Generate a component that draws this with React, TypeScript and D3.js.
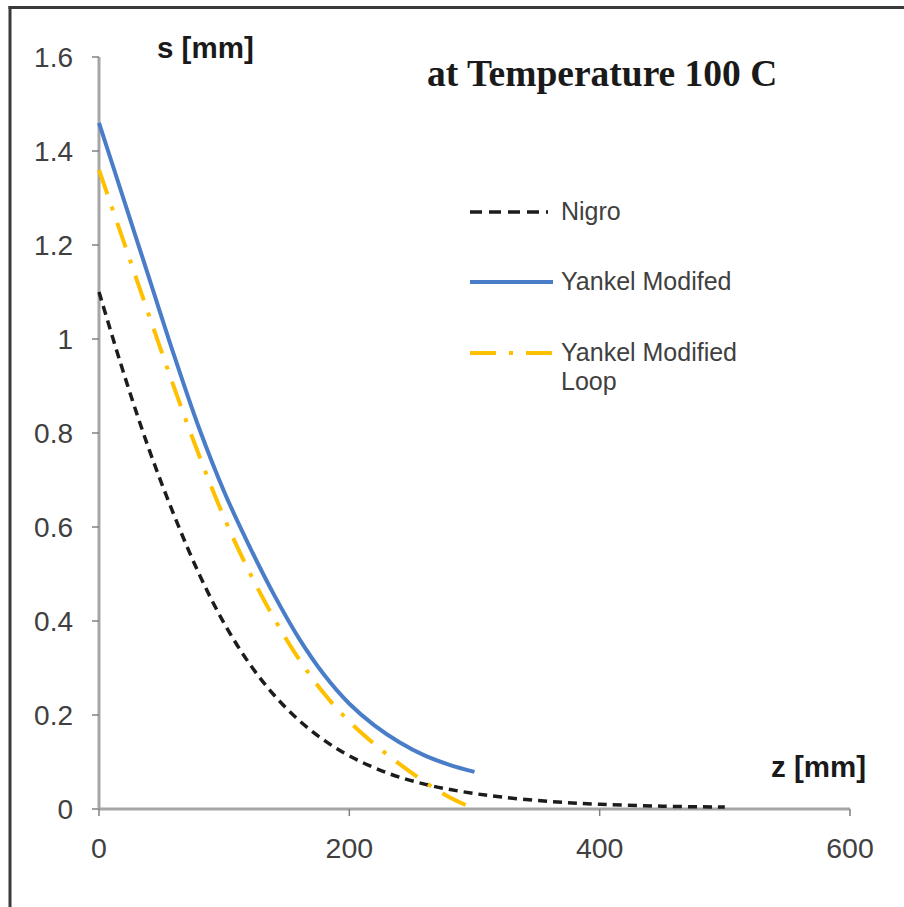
import * as d3 from "d3";

// z [mm] / s [mm] readings
const nigroZ = [0, 20, 40, 60, 80, 100, 120, 140, 160, 180, 200, 230, 260, 290, 320, 360, 400, 450, 500];
const nigroS = [1.1, 0.925, 0.765, 0.625, 0.5, 0.395, 0.31, 0.242, 0.188, 0.146, 0.113, 0.077, 0.053, 0.037, 0.026, 0.016, 0.01, 0.006, 0.004];

const yankelZ = [0, 20, 40, 60, 80, 100, 120, 140, 160, 180, 200, 220, 240, 260, 280, 300];
const yankelS = [1.46, 1.295, 1.13, 0.965, 0.81, 0.675, 0.56, 0.455, 0.362, 0.285, 0.224, 0.178, 0.142, 0.114, 0.094, 0.079];

const loopZ = [0, 20, 40, 60, 80, 100, 120, 140, 160, 180, 200, 220, 240, 260, 280, 300];
const loopS = [1.36, 1.205, 1.05, 0.897, 0.752, 0.62, 0.505, 0.405, 0.318, 0.245, 0.186, 0.138, 0.096, 0.058, 0.025, 0];

const xTicks = [0, 200, 400, 600];
const yTicks = [0, 0.2, 0.4, 0.6, 0.8, 1, 1.2, 1.4, 1.6];

const legendLabels = ["Nigro", "Yankel Modifed", "Yankel Modified"];

const W = 904;
const H = 907;
const sans = "'Liberation Sans', Arial, sans-serif";

export default function App() {
  const x = d3.scaleLinear().domain([0, 600]).range([99, 850]);
  const y = d3.scaleLinear().domain([0, 1.6]).range([809, 57]);

  const line = d3
    .line<[number, number]>()
    .x((d) => x(d[0]))
    .y((d) => y(d[1]))
    .curve(d3.curveCatmullRom);

  const zip = (zs: number[], ss: number[]) => zs.map((z, i) => [z, ss[i]] as [number, number]);

  const series = [
    { pts: zip(nigroZ, nigroS), color: "#1c1c1c", width: 3.5, dash: "9,6" },
    { pts: zip(yankelZ, yankelS), color: "#4a7dc8", width: 4, dash: "" },
    { pts: zip(loopZ, loopS), color: "#ffc000", width: 4, dash: "26,13,4,13" },
  ];

  const legendY = [212, 282, 353];

  return (
    <svg
      width={W}
      height={H}
      style={{ position: "absolute", left: 0, top: 0, background: "#fff" }}
    >
      <rect x={0} y={0} width={W} height={H} fill="#fff" />
      {/* frame */}
      <line x1={8.5} x2={W} y1={7.5} y2={7.5} stroke="#3a3a3a" strokeWidth={3} />
      <line x1={10} x2={10} y1={6} y2={H} stroke="#3a3a3a" strokeWidth={3} />

      {/* y axis */}
      <line x1={x(0)} x2={x(0)} y1={y(1.6)} y2={y(0)} stroke="#a6a6a6" strokeWidth={3} />
      {yTicks.map((t) => (
        <g key={"y" + t}>
          <line x1={x(0) - 7} x2={x(0)} y1={y(t)} y2={y(t)} stroke="#808080" strokeWidth={1.5} />
          <text
            x={73}
            y={y(t)}
            dy="0.36em"
            textAnchor="end"
            fontFamily={sans}
            fontSize={28}
            fill="#404040"
          >
            {d3.format("")(t)}
          </text>
        </g>
      ))}

      {/* x axis */}
      <line x1={x(0)} x2={x(600)} y1={y(0)} y2={y(0)} stroke="#a6a6a6" strokeWidth={3} />
      {xTicks.map((t) => (
        <g key={"x" + t}>
          <line x1={x(t)} x2={x(t)} y1={y(0)} y2={y(0) + 7} stroke="#808080" strokeWidth={1.5} />
          <text
            x={x(t)}
            y={858}
            textAnchor="middle"
            fontFamily={sans}
            fontSize={28.5}
            fill="#404040"
          >
            {t}
          </text>
        </g>
      ))}

      {/* series */}
      {series.map((s, i) => (
        <path
          key={"s" + i}
          d={line(s.pts) || ""}
          fill="none"
          stroke={s.color}
          strokeWidth={s.width}
          strokeDasharray={s.dash || undefined}
        />
      ))}

      {/* axis titles */}
      <text x={157} y={58} fontFamily={sans} fontWeight="bold" fontSize={29.5} fill="#1a1a1a">
        s [mm]
      </text>
      <text x={771} y={777} fontFamily={sans} fontWeight="bold" fontSize={29.5} fill="#1a1a1a">
        z [mm]
      </text>

      {/* chart title */}
      <text
        x={427}
        y={86}
        fontFamily="'Liberation Serif', 'Times New Roman', serif"
        fontWeight="bold"
        fontSize={37.5}
        fill="#1a1a1a"
      >
        at Temperature 100 C
      </text>

      {/* legend */}
      {series.map((s, i) => (
        <line
          key={"l" + i}
          x1={470}
          x2={i === 0 ? 548 : 553}
          y1={legendY[i]}
          y2={legendY[i]}
          stroke={s.color}
          strokeWidth={s.width}
          strokeDasharray={i === 0 ? "12,7" : s.dash || undefined}
        />
      ))}
      {legendLabels.map((l, i) => (
        <text
          key={"t" + i}
          x={561}
          y={legendY[i] + 8}
          fontFamily={sans}
          fontSize={25}
          fill="#404040"
        >
          {l}
        </text>
      ))}
      <text x={561} y={legendY[2] + 37} fontFamily={sans} fontSize={25} fill="#404040">
        Loop
      </text>
    </svg>
  );
}
